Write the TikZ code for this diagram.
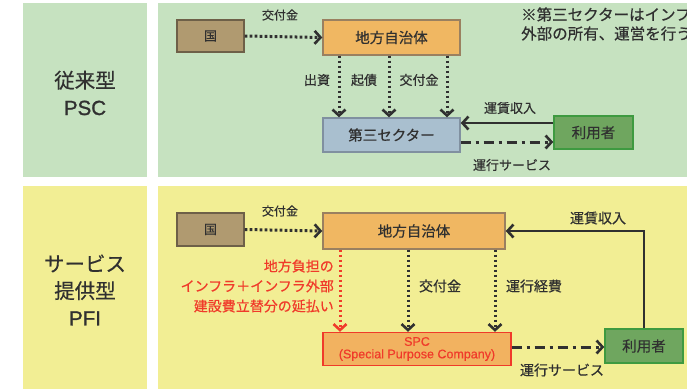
\documentclass[tikz,border=0pt]{standalone}
\usepackage{fontspec}
\setmainfont{Noto Sans CJK JP}[FakeBold=0.5]
\newfontfamily\latfont{Liberation Sans}[FakeBold=0.5]
\newfontfamily\sidelat{Liberation Sans}[FakeBold=1.2]
\usetikzlibrary{arrows.meta}
\definecolor{pgreen}{HTML}{C6E2C0}
\definecolor{pyellow}{HTML}{F2EE94}
\definecolor{kunifill}{HTML}{B09A70}
\definecolor{kuniedge}{HTML}{6E6048}
\definecolor{chihofill}{HTML}{F0B762}
\definecolor{chihoedge}{HTML}{9A8060}
\definecolor{daisanfill}{HTML}{A9BFCF}
\definecolor{daisanedge}{HTML}{8090A0}
\definecolor{userfill}{HTML}{6FA65F}
\definecolor{useredge}{HTML}{3E9A40}
\definecolor{spcfill}{HTML}{F2B260}
\definecolor{spcred}{HTML}{F03A2A}
\definecolor{txt}{HTML}{303030}
\tikzset{
  box/.style={draw, line width=1.4pt, inner sep=0pt, text=txt, font=\fontsize{14.5}{16}\selectfont},
  lbl/.style={text=txt, inner sep=0pt, font=\fontsize{13}{15}\selectfont},
  side/.style={text=txt, inner sep=0pt, align=center, font=\fontsize{20.5}{27}\selectfont},
  tip/.style={-{Straight Barb[length=6pt,width=13pt,line width=2.6pt]}},
  dotline/.style={tip, line width=3pt, dash pattern=on 2.6pt off 2.4pt, txt},
  dashdot/.style={tip, line width=3pt, dash pattern=on 10pt off 5pt on 3pt off 5pt, txt},
  solidline/.style={tip, line width=2.4pt, txt},
}
\begin{document}
\begin{tikzpicture}[x=1pt,y=-1pt]
\useasboundingbox (0,0) rectangle (687,389);
\clip (0,0) rectangle (687,389);
\fill[white] (0,0) rectangle (687,389);
% panels
\fill[pgreen] (23,3) rectangle (147,177);
\fill[pgreen] (158,3) rectangle (687,177);
\fill[pyellow] (23,186) rectangle (147,389);
\fill[pyellow] (158,186) rectangle (687,389);

% side labels
\node[side] (psc) at (85,93) {従来型\\{\sidelat PSC}};
\node[side] (pfi) at (85,290) {サービス\\提供型\\{\sidelat PFI}};

% note
\node[anchor=west, text=txt, inner sep=0pt, align=left, font=\fontsize{15.5}{19}\selectfont] (note) at (521,24) {※第三セクターはインフ\\外部の所有、運営を行う};

% ---------- top (PSC) ----------
\node[box, fill=kunifill, draw=kuniedge, minimum width=67pt, minimum height=32pt, font=\fontsize{13}{14}\selectfont] (kuni1) at (210.5,36) {国};
\node[box, fill=chihofill, draw=chihoedge, minimum width=137pt, minimum height=35pt] (chiho1) at (391.5,37.5) {地方自治体};
\node[box, fill=daisanfill, draw=daisanedge, minimum width=137pt, minimum height=34pt] (daisan) at (391.5,135) {第三セクター};
\node[box, fill=userfill, draw=useredge, minimum width=79pt, minimum height=33pt] (user1) at (593.5,132.5) {利用者};

\draw[dotline] (kuni1.east) -- (chiho1.west);
\node[lbl, font=\fontsize{12}{14}\selectfont] (l1) at (280,15) {交付金};

\coordinate (a1) at (339,55);
\coordinate (a2) at (389,55);
\coordinate (a3) at (447,55);
\draw[dotline] (chiho1.south -| a1) -- (daisan.north -| a1);
\draw[dotline] (chiho1.south -| a2) -- (daisan.north -| a2);
\draw[dotline] (chiho1.south -| a3) -- (daisan.north -| a3);
\node[lbl] (l2) at (317,80) {出資};
\node[lbl] (l3) at (364,80) {起債};
\node[lbl] (l4) at (419,80) {交付金};

\coordinate (r1) at (0,123);
\coordinate (r2) at (0,142);
\draw[solidline] (user1.west |- r1) -- (daisan.east |- r1);
\draw[dashdot] (daisan.east |- r2) -- (user1.west |- r2);
\node[lbl] (l5) at (510,108) {運賃収入};
\node[lbl] (l6) at (512,165) {運行サービス};

% ---------- bottom (PFI) ----------
\node[box, fill=kunifill, draw=kuniedge, minimum width=67pt, minimum height=33pt, font=\fontsize{13}{14}\selectfont] (kuni2) at (210.5,229.5) {国};
\node[box, fill=chihofill, draw=chihoedge, minimum width=182pt, minimum height=36pt] (chiho2) at (414,231) {地方自治体};
\node[box, fill=spcfill, draw=spcred, minimum width=188pt, minimum height=33pt, text=spcred, align=center, font=\latfont\fontsize{12.5}{12.5}\selectfont] (spc) at (417,349) {SPC\\(Special Purpose Company)};
\node[box, fill=userfill, draw=useredge, minimum width=78pt, minimum height=34pt] (user2) at (644,346) {利用者};

\draw[dotline] (kuni2.east) -- (chiho2.west);
\node[lbl, font=\fontsize{12}{14}\selectfont] (l7) at (280,211) {交付金};

\coordinate (b1) at (340,0);
\coordinate (b2) at (408,0);
\coordinate (b3) at (495,0);
\draw[dotline, spcred] (chiho2.south -| b1) -- (spc.north -| b1);
\draw[dotline] (chiho2.south -| b2) -- (spc.north -| b2);
\draw[dotline] (chiho2.south -| b3) -- (spc.north -| b3);
\node[anchor=east, inner sep=0pt, align=right, text=spcred, font=\fontsize{14}{20}\selectfont] (l8) at (334,286) {地方負担の\\インフラ＋インフラ外部\\建設費立替分の延払い};
\node[lbl, font=\fontsize{14}{16}\selectfont] (l9) at (440,286) {交付金};
\node[lbl, font=\fontsize{14}{16}\selectfont] (l10) at (534,286) {運行経費};

\draw[solidline] (user2.north) |- (chiho2.east);
\node[lbl, font=\fontsize{14}{16}\selectfont] (l11) at (598,218) {運賃収入};
\coordinate (r3) at (0,347);
\draw[dashdot] (spc.east |- r3) -- (user2.west |- r3);
\node[lbl, font=\fontsize{14}{16}\selectfont] (l12) at (562,370) {運行サービス};
\end{tikzpicture}
\end{document}
